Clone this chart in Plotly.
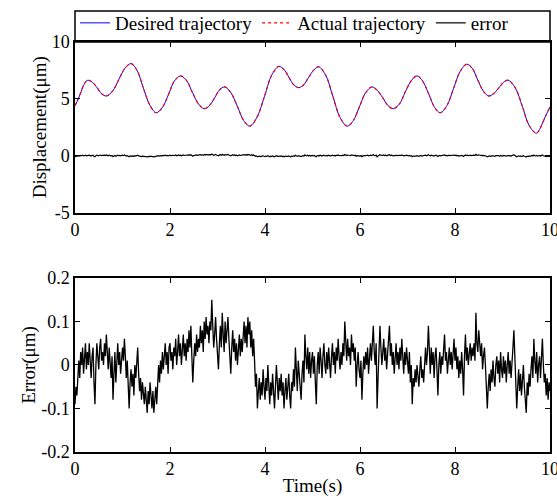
import plotly.graph_objects as go
from plotly.subplots import make_subplots

# Trajectory key points (time in s, displacement in um)
traj_t = [0, 0.07, 0.13, 0.2, 0.27, 0.37, 0.47, 0.56, 0.66, 0.79, 0.92, 1.05, 1.18, 1.31, 1.44, 1.58, 1.71,
          1.84, 1.97, 2.09, 2.22, 2.35, 2.47, 2.6, 2.72, 2.83, 2.94, 3.04, 3.15, 3.28, 3.42, 3.55, 3.68,
          3.83, 3.99, 4.14, 4.29, 4.4, 4.5, 4.6, 4.71, 4.82, 4.92, 5.03, 5.13, 5.28, 5.43, 5.58, 5.73,
          5.86, 5.99, 6.12, 6.25, 6.36, 6.48, 6.59, 6.70, 6.83, 6.95, 7.08, 7.20, 7.32, 7.45, 7.57, 7.69,
          7.83, 7.97, 8.11, 8.25, 8.37, 8.48, 8.6, 8.71, 8.81, 8.92, 9.02, 9.12, 9.27, 9.42, 9.56, 9.71,
          9.78, 9.85, 9.92, 10.0]
desired = [4.4, 5.0, 5.65, 6.35, 6.64, 6.44, 5.95, 5.45, 5.25, 5.67, 6.68, 7.68, 8.1, 7.47, 5.94, 4.41, 3.78,
           4.25, 5.4, 6.55, 7.02, 6.6, 5.58, 4.55, 4.13, 4.41, 5.09, 5.77, 6.05, 5.55, 4.33, 3.1, 2.6,
           3.37, 5.23, 7.08, 7.85, 7.58, 6.92, 6.26, 5.99, 6.26, 6.9, 7.55, 7.82, 7.06, 5.21, 3.36, 2.6,
           3.1, 4.33, 5.55, 6.05, 5.77, 5.09, 4.41, 4.13, 4.55, 5.58, 6.6, 7.02, 6.55, 5.4, 4.25, 3.78,
           4.41, 5.92, 7.43, 8.05, 7.64, 6.65, 5.66, 5.25, 5.45, 5.95, 6.44, 6.64, 5.96, 4.31, 2.66, 1.97,
           2.3, 2.95, 3.6, 4.3]
actual = [4.4, 5.0, 5.65, 6.35, 6.64, 6.44, 5.95, 5.45, 5.25, 5.67, 6.68, 7.68, 8.1, 7.47, 5.94, 4.41, 3.78,
          4.25, 5.4, 6.55, 7.02, 6.6, 5.58, 4.55, 4.13, 4.41, 5.09, 5.77, 6.05, 5.55, 4.33, 3.1, 2.6,
          3.37, 5.23, 7.08, 7.85, 7.58, 6.92, 6.26, 5.99, 6.26, 6.9, 7.55, 7.82, 7.06, 5.21, 3.36, 2.6,
          3.1, 4.33, 5.55, 6.05, 5.77, 5.09, 4.41, 4.13, 4.55, 5.58, 6.6, 7.02, 6.55, 5.4, 4.25, 3.78,
          4.41, 5.92, 7.43, 8.05, 7.64, 6.65, 5.66, 5.25, 5.45, 5.95, 6.44, 6.64, 5.96, 4.31, 2.66, 1.97,
          2.3, 2.95, 3.6, 4.3]

# Tracking error (um), sampled every 0.02 s from 0 to 10 s
err_dt = 0.02
error = [
    # 0 s
    -0.09, -0.05, -0.07, -0.02, 0.01, -0.03, 0.03, 0.00, 0.04, -0.02,
    0.02, 0.05, -0.01, 0.03, 0.00, 0.05, 0.01, -0.03, 0.02, 0.04,
    -0.04, -0.09, 0.00, 0.05, 0.02, -0.01, 0.04, 0.06, 0.01, 0.03,
    0.00, 0.05, 0.02, 0.07, 0.03, -0.01, 0.04, 0.01, -0.03, 0.02,
    -0.08, -0.02, 0.03, -0.04, 0.01, 0.05, 0.00, 0.03, -0.02, 0.02,
    # 1 s
    0.04, 0.01, 0.06, 0.02, -0.03, 0.01, -0.06, -0.10, -0.04, -0.01,
    -0.05, -0.02, -0.07, 0.00, -0.03, 0.02, 0.04, -0.02, -0.06, -0.03,
    -0.08, -0.04, -0.06, -0.09, -0.05, -0.08, -0.11, -0.06, -0.09, -0.04,
    -0.07, -0.10, -0.06, -0.11, -0.08, -0.05, -0.09, -0.03, 0.00, -0.04,
    0.01, -0.02, 0.03, -0.01, 0.02, 0.05, 0.00, 0.03, -0.02, 0.04,
    # 2 s
    0.05, 0.01, 0.03, -0.01, 0.04, 0.02, 0.06, 0.00, 0.03, 0.07,
    0.02, 0.05, 0.00, 0.04, 0.07, 0.02, 0.05, 0.01, 0.06, 0.03,
    0.08, 0.04, 0.09, 0.02, -0.04, 0.01, 0.05, 0.02, 0.07, 0.03,
    0.06, 0.04, 0.09, 0.05, 0.08, 0.03, 0.10, 0.06, 0.11, 0.07,
    0.09, 0.05, 0.10, 0.08, 0.15, 0.09, 0.04, 0.07, 0.11, 0.06,
    # 3 s
    0.03, -0.01, 0.05, 0.09, 0.04, 0.12, 0.07, 0.03, 0.10, 0.05,
    0.08, 0.11, 0.06, 0.02, -0.02, 0.04, 0.08, 0.03, 0.06, 0.01,
    0.05, 0.00, 0.04, 0.07, 0.02, 0.06, 0.03, 0.08, 0.10, 0.05,
    0.09, 0.04, 0.11, 0.07, 0.10, 0.04, 0.08, 0.02, 0.06, 0.01,
    -0.05, -0.02, -0.10, -0.06, -0.03, -0.08, -0.04, -0.07, -0.01, -0.05,
    # 4 s
    -0.08, -0.03, -0.06, 0.00, -0.05, -0.09, -0.04, -0.07, -0.02, -0.06,
    -0.10, -0.05, 0.00, -0.04, -0.08, -0.03, -0.06, -0.02, -0.07, -0.04,
    -0.10, -0.06, -0.03, -0.08, -0.05, -0.02, -0.07, -0.10, -0.04, -0.06,
    -0.01, -0.05, 0.04, -0.02, -0.06, 0.01, -0.03, -0.07, -0.08, -0.02,
    0.01, -0.04, 0.07, 0.02, -0.01, 0.04, -0.02, 0.03, -0.03, 0.01,
    # 5 s
    0.03, -0.02, 0.02, -0.04, -0.09, 0.00, 0.03, -0.02, 0.04, 0.01,
    -0.03, 0.02, 0.05, 0.00, -0.02, 0.03, -0.01, 0.04, 0.01, -0.03,
    0.02, 0.05, 0.00, 0.03, -0.02, 0.04, 0.01, 0.06, 0.02, -0.01,
    0.03, 0.00, 0.05, 0.02, 0.10, 0.04, 0.01, 0.06, 0.02, 0.04,
    0.00, 0.07, 0.03, 0.05, 0.01, 0.04, -0.05, 0.00, 0.03, -0.01,
    # 6 s
    -0.03, 0.01, -0.08, -0.02, 0.02, -0.01, 0.03, 0.00, 0.04, -0.02,
    0.02, 0.05, 0.01, 0.06, 0.09, 0.03, 0.00, 0.05, -0.10, -0.03,
    0.02, 0.09, 0.04, 0.00, 0.03, 0.06, 0.01, 0.04, -0.01, 0.03,
    0.05, 0.09, 0.02, 0.05, 0.00, 0.03, -0.02, 0.02, 0.05, 0.00,
    0.03, -0.01, 0.04, 0.01, 0.06, 0.02, -0.02, 0.03, 0.00, 0.04,
    # 7 s
    0.01, -0.02, 0.03, -0.04, 0.00, -0.09, -0.03, -0.05, -0.01, -0.04,
    0.00, -0.03, -0.05, -0.01, 0.02, -0.03, -0.01, -0.04, 0.01, 0.04,
    0.00, 0.03, 0.09, 0.02, -0.02, 0.04, 0.00, 0.03, -0.03, 0.02,
    0.04, -0.01, -0.07, 0.00, 0.03, -0.02, 0.02, 0.00, 0.04, 0.07,
    0.01, 0.03, -0.02, 0.02, 0.04, 0.00, 0.03, -0.01, 0.02, 0.06,
    # 8 s
    0.01, 0.04, -0.01, 0.02, -0.03, 0.01, -0.02, 0.03, -0.01, -0.07,
    0.02, 0.07, 0.01, 0.04, 0.00, 0.03, 0.05, 0.01, 0.04, 0.02,
    0.05, 0.01, 0.12, 0.05, 0.03, 0.08, 0.04, 0.02, 0.05, -0.01,
    0.02, 0.04, 0.00, -0.04, -0.10, -0.05, -0.02, -0.06, -0.01, -0.04,
    0.01, -0.03, -0.05, 0.00, 0.02, -0.02, 0.01, -0.04, 0.03, -0.01,
    # 9 s
    -0.03, 0.02, -0.02, 0.01, -0.04, 0.00, 0.03, -0.02, 0.01, -0.03,
    0.02, 0.04, 0.08, 0.01, -0.03, -0.10, -0.05, -0.01, -0.06, -0.02,
    -0.07, -0.03, 0.00, -0.05, -0.08, -0.11, -0.04, -0.07, -0.02, -0.05,
    -0.01, 0.02, -0.03, 0.06, 0.01, -0.02, 0.03, -0.04, 0.00, 0.02,
    -0.03, 0.01, 0.06, 0.00, -0.04, -0.02, -0.07, -0.03, -0.08, -0.04,
    # 10 s
    -0.06,
]
err_t = [round(i * err_dt, 2) for i in range(len(error))]

x_ticks = [0, 2, 4, 6, 8, 10]
top_y_ticks = [-5, 0, 5, 10]
bot_y_ticks = [-0.2, -0.1, 0, 0.1, 0.2]
bot_y_text = ["-0.2", "-0.1", "0", "0.1", "0.2"]

FONT = "Liberation Serif, Times New Roman, serif"

fig = make_subplots(rows=2, cols=1, vertical_spacing=0.0)

fig.add_trace(go.Scatter(x=traj_t, y=desired, mode="lines", line=dict(color="#0000ff", width=1, shape="spline"),
                         name="Desired trajectory"), row=1, col=1)
fig.add_trace(go.Scatter(x=traj_t, y=actual, mode="lines", line=dict(color="#ff0000", width=1.2, dash="dot", shape="spline"),
                         name="Actual trajectory"), row=1, col=1)
fig.add_trace(go.Scatter(x=err_t, y=error, mode="lines", line=dict(color="black", width=1.2),
                         name="error"), row=1, col=1)
fig.add_trace(go.Scatter(x=err_t, y=error, mode="lines", line=dict(color="black", width=1.3),
                         showlegend=False), row=2, col=1)

axis_common = dict(showline=True, linecolor="black", linewidth=1.5, mirror="ticks", ticks="inside",
                   ticklen=5, tickcolor="black", showgrid=False, zeroline=False,
                   tickfont=dict(family=FONT, size=18, color="black"))

fig.update_xaxes(range=[0, 10], tickvals=x_ticks, ticktext=[str(v) for v in x_ticks],
                 ticklabeloverflow="allow", **axis_common)
fig.update_yaxes(**axis_common)

title_font = dict(family=FONT, size=19, color="black")
fig.update_layout(
    width=557, height=497,
    margin=dict(l=75, r=7, t=42, b=45, autoexpand=False),
    plot_bgcolor="white", paper_bgcolor="white",
    xaxis=dict(domain=[0, 1], anchor="y"),
    yaxis=dict(domain=[0.584, 1.0], range=[-5, 10], tickvals=top_y_ticks,
               ticktext=[str(v) for v in top_y_ticks],
               title=dict(text="Displacement(μm)", font=title_font, standoff=0)),
    xaxis2=dict(domain=[0, 1], anchor="y2",
                title=dict(text="Time(s)", font=title_font, standoff=0)),
    yaxis2=dict(domain=[0.0, 0.4244], range=[-0.2, 0.2], tickvals=bot_y_ticks,
                ticktext=bot_y_text,
                title=dict(text="Error(μm)", font=title_font, standoff=0)),
    showlegend=True,
    legend=dict(orientation="h", x=0.0, xanchor="left", y=1.0, yanchor="bottom",
                font=dict(family=FONT, size=19, color="black"), bgcolor="rgba(0,0,0,0)",
                itemwidth=30, tracegroupgap=0),
    shapes=[dict(type="rect", xref="paper", yref="paper", x0=0, x1=1, y0=1.0, y1=1.0756,
                 line=dict(color="black", width=1.5), fillcolor="rgba(0,0,0,0)")],
)

fig.write_html("out.html")
